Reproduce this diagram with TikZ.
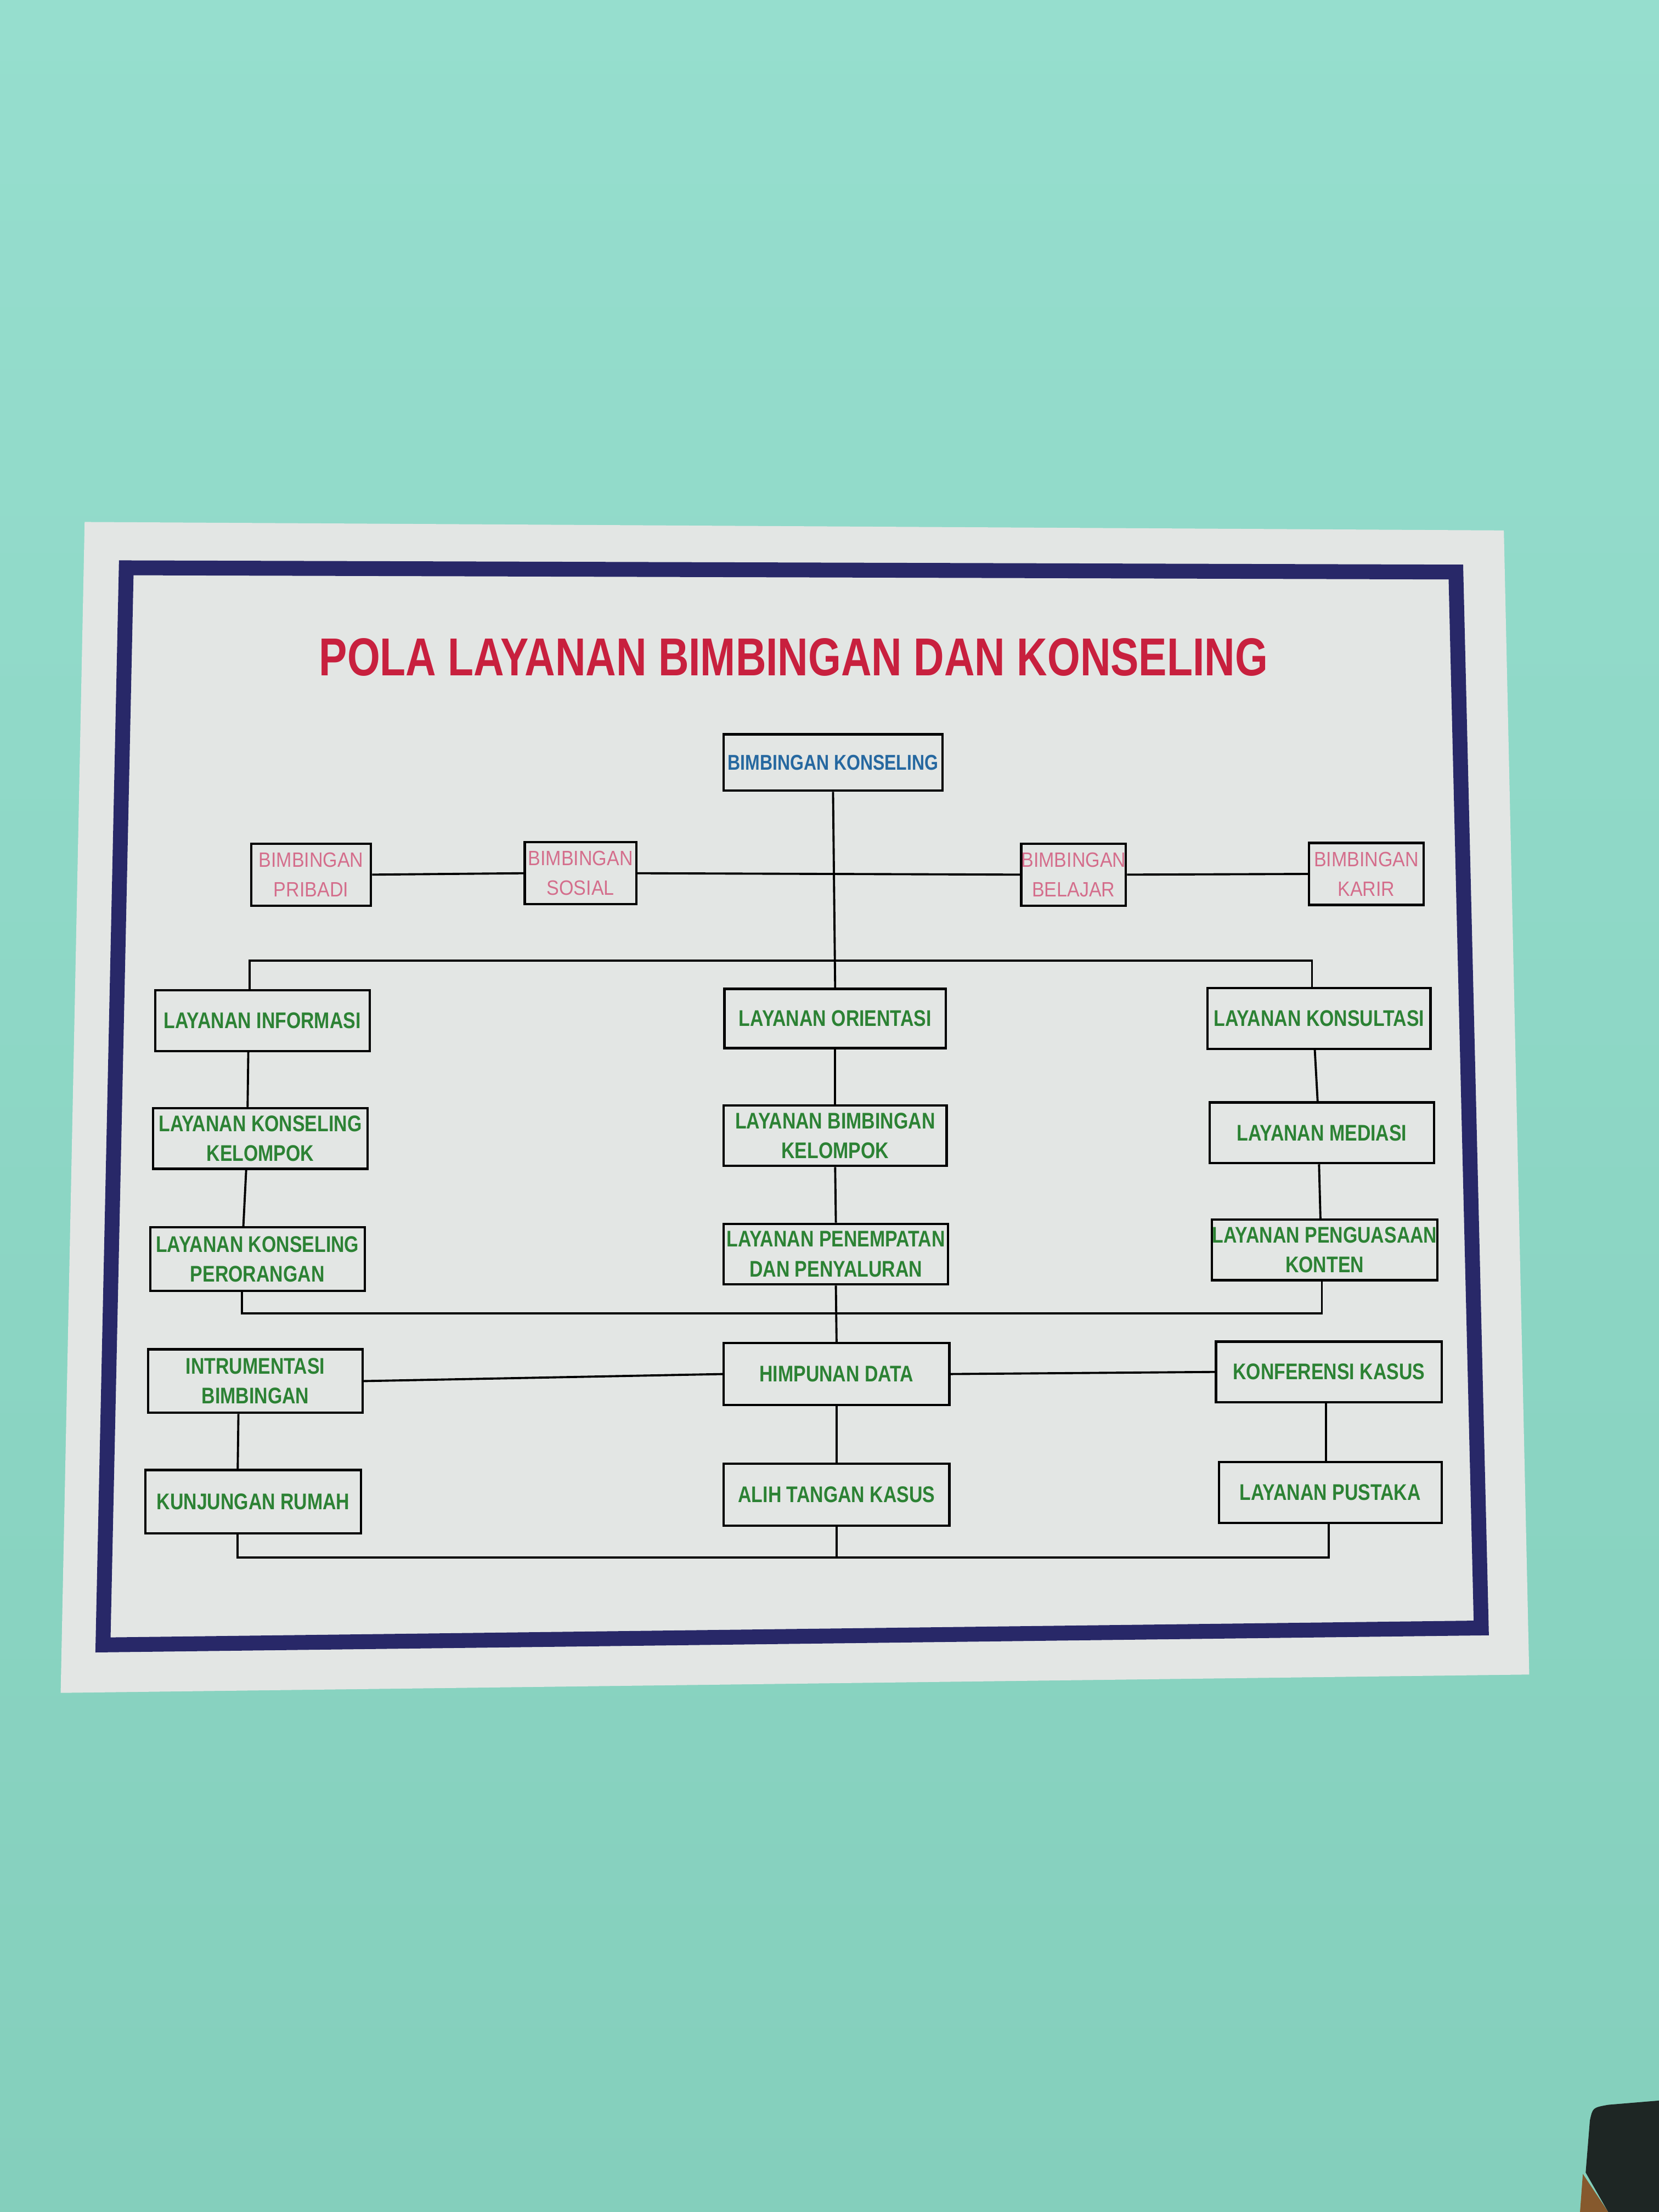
\documentclass[tikz,border=0pt]{standalone}
\usepackage{fontspec}
\usetikzlibrary{calc}

\newfontfamily\titlefont[FakeStretch=0.79]{Liberation Sans}
\newfontfamily\chartfont[FakeStretch=0.82]{Liberation Sans}
\newfontfamily\pinkfont[FakeStretch=0.9]{Liberation Sans}

% one pixel of the photo (shown at 1176 x 1568)
\newcommand{\pxl}{0.025714cm}

\definecolor{walltop}{RGB}{150,222,206}
\definecolor{wallbot}{RGB}{132,207,188}
\definecolor{banner}{RGB}{227,230,228}
\definecolor{frameblue}{RGB}{40,40,104}
\definecolor{titlered}{RGB}{200,32,62}
\definecolor{bkblue}{RGB}{38,104,160}
\definecolor{bkpink}{RGB}{212,110,140}
\definecolor{bkgreen}{RGB}{44,130,52}
\definecolor{chair}{RGB}{30,38,36}

\tikzset{
  box/.style={draw, line width=1.2pt, fill=banner, inner sep=0pt, align=center,
    minimum height=43*\pxl},
  topbox/.style={box, text=bkblue, minimum height=40*\pxl,
    font=\chartfont\bfseries\fontsize{11.1}{14}\selectfont},
  pinkbox/.style={box, text=bkpink, minimum height=44*\pxl,
    font=\pinkfont\fontsize{10.75}{15.4}\selectfont},
  greenbox/.style={box, text=bkgreen,
    font=\chartfont\bfseries\fontsize{11.75}{15.4}\selectfont},
  leftbox/.style={greenbox, minimum width=152*\pxl},
  midbox/.style={greenbox, minimum width=159*\pxl},
  rightbox/.style={greenbox, minimum width=159*\pxl},
  link/.style={line width=1.1pt}
}

\begin{document}
\begin{tikzpicture}[x=\pxl, y=-\pxl]
\useasboundingbox (0,0) rectangle (1176,1568);

% wall and banner
\shade[top color=walltop, bottom color=wallbot] (0,0) rectangle (1176,1568);
\fill[banner] (60,370) -- (1066,376) -- (1084,1187) -- (43,1200) -- cycle;
\draw[frameblue, line width=7.7pt] (89.5,402.5) -- (1032,405.5) -- (1050,1154) -- (73,1166) -- cycle;
\fill[chair] (1124,1540) -- (1127,1503) .. controls (1129,1494) .. (1140,1492) -- (1176,1489) -- (1176,1568) -- (1140,1568) -- cycle;
\fill[brown!70!black] (1122,1541) -- (1140,1568) -- (1120,1568) -- cycle;

\node[text=titlered, font=\titlefont\bfseries\fontsize{27.7}{30}\selectfont] (title) at (562.5,466) {POLA LAYANAN BIMBINGAN DAN KONSELING};

% top
\node[topbox, minimum width=155*\pxl] (bk) at (590.5,540.5) {BIMBINGAN KONSELING};
\node[pinkbox, minimum width=85*\pxl] (pri) at (220.5,620) {BIMBINGAN\\PRIBADI};
\node[pinkbox, minimum width=79*\pxl] (sos) at (411.5,619) {BIMBINGAN\\SOSIAL};
\node[pinkbox, minimum width=74*\pxl] (bel) at (761,620) {BIMBINGAN\\BELAJAR};
\node[pinkbox, minimum width=81*\pxl] (kar) at (968.5,619.5) {BIMBINGAN\\KARIR};

% layanan
\node[leftbox] (inf) at (186,723.5) {LAYANAN INFORMASI};
\node[leftbox] (kkel) at (184.5,807) {LAYANAN KONSELING\\KELOMPOK};
\node[leftbox, minimum height=45*\pxl] (kper) at (182.5,892.5) {LAYANAN KONSELING\\PERORANGAN};
\node[midbox, minimum width=157*\pxl, minimum height=42*\pxl] (ori) at (592,722) {LAYANAN ORIENTASI};
\node[midbox, minimum width=158*\pxl] (bkel) at (592,805) {LAYANAN BIMBINGAN\\KELOMPOK};
\node[midbox] (pen) at (592.5,889) {LAYANAN PENEMPATAN\\DAN PENYALURAN};
\node[rightbox, minimum width=158*\pxl] (kons) at (935,722) {LAYANAN KONSULTASI};
\node[rightbox] (med) at (937,803) {LAYANAN MEDIASI};
\node[rightbox, minimum width=160*\pxl] (kont) at (939,886) {LAYANAN PENGUASAAN\\KONTEN};

% pendukung
\node[leftbox, minimum height=45*\pxl] (intr) at (181,979) {INTRUMENTASI\\BIMBINGAN};
\node[midbox, minimum width=160*\pxl, minimum height=44*\pxl] (him) at (593,974) {HIMPUNAN DATA};
\node[rightbox, minimum width=160*\pxl] (konf) at (942,972.5) {KONFERENSI KASUS};
\node[leftbox, minimum width=153*\pxl, minimum height=45*\pxl] (kun) at (179.5,1064.5) {KUNJUNGAN RUMAH};
\node[midbox, minimum width=160*\pxl, minimum height=44*\pxl] (alih) at (593,1059.5) {ALIH TANGAN KASUS};
\node[rightbox, minimum width=158*\pxl] (pus) at (943,1058) {LAYANAN PUSTAKA};

\coordinate (bus1) at (592,681);
\coordinate (bus2) at (592.5,931);
\coordinate (bus3) at (593,1104);

% connectors
\draw[link] (bk.south) -- (ori.north);
\draw[link] (pri.east) -- (sos.west);
\draw[link] (sos.east) -- (bel.west);
\draw[link] (bel.east) -- (kar.west);
\draw[link] ($(inf.north)+(-9,0)$) |- (bus1) -| ($(kons.north)+(-5,0)$);
\draw[link] ($(inf.south)+(-10,0)$) -- ($(kkel.north)+(-9,0)$);
\draw[link] ($(kkel.south)+(-10,0)$) -- ($(kper.north)+(-10,0)$);
\draw[link] (ori.south) -- (bkel.north);
\draw[link] (bkel.south) -- (pen.north);
\draw[link] ($(kons.south)+(-3,0)$) -- ($(med.north)+(-3,0)$);
\draw[link] ($(med.south)+(-2,0)$) -- ($(kont.north)+(-3,0)$);
\draw[link] ($(kper.south)+(-11,0)$) |- (bus2) -| ($(kont.south)+(-2,0)$);
\draw[link] (pen.south) -- (him.north);
\draw[link] (intr.east) -- (him.west);
\draw[link] (him.east) -- (konf.west);
\draw[link] ($(intr.south)+(-12,0)$) -- ($(kun.north)+(-11,0)$);
\draw[link] (him.south) -- (alih.north);
\draw[link] ($(konf.south)+(-2,0)$) -- ($(pus.north)+(-3,0)$);
\draw[link] ($(kun.south)+(-11,0)$) |- (bus3) -| ($(pus.south)+(-1,0)$);
\draw[link] (alih.south) -- (bus3);
\end{tikzpicture}
\end{document}
